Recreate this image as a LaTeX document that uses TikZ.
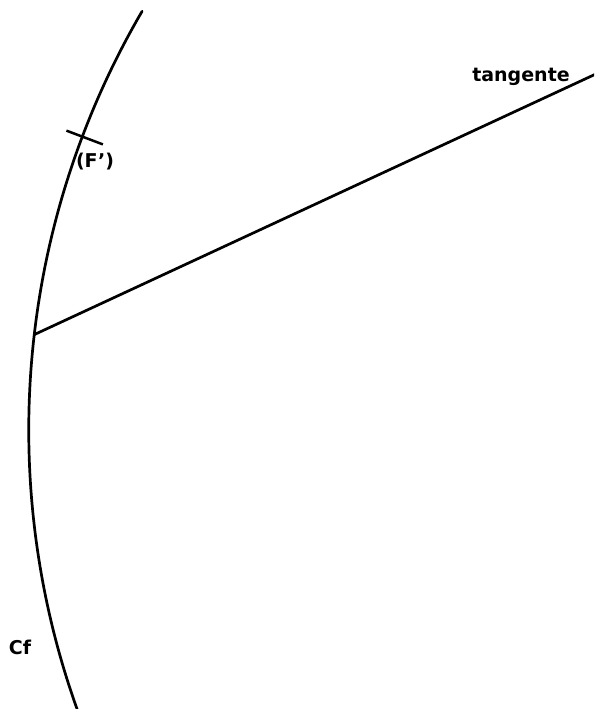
\documentclass[tikz,border=0pt]{standalone}
\usepackage{fontspec}
\setmainfont{DejaVu Sans}
\usetikzlibrary{calc}
\tikzset{
  trait/.style={line width=2.7pt,line cap=round},
  repere/.style={line width=2.5pt},
  etiq/.style={font=\bfseries\fontsize{19}{21}\selectfont,inner sep=0pt},
}
\begin{document}
\begin{tikzpicture}[x=1pt,y=1pt]
  \useasboundingbox (0,0) rectangle (594,-709);
  \clip (0,0) rectangle (594,-709);
  % cercle Cf
  \coordinate (O) at (858.7,-430);
  \draw[trait] ($(O)+(149.7:830)$) arc[start angle=149.7,end angle=200.5,radius=830];
  % point de tangence et repere (F')
  \coordinate (T) at ($(O)+(173.4:830)$);
  \coordinate (F1) at ($(O)+(159.3:847)$);
  \coordinate (F2) at ($(O)+(159.3:808)$);
  \coordinate (E) at (598,-73);
  \draw[repere] (F1) -- (F2);
  \draw[trait] (T) -- (E);
  \node[etiq] (fp) at (95,-162) {(F’)};
  \node[etiq] (tg) at (521,-77) {tangente};
  \node[etiq] (cf) at (20,-647) {Cf};
\end{tikzpicture}
\end{document}
